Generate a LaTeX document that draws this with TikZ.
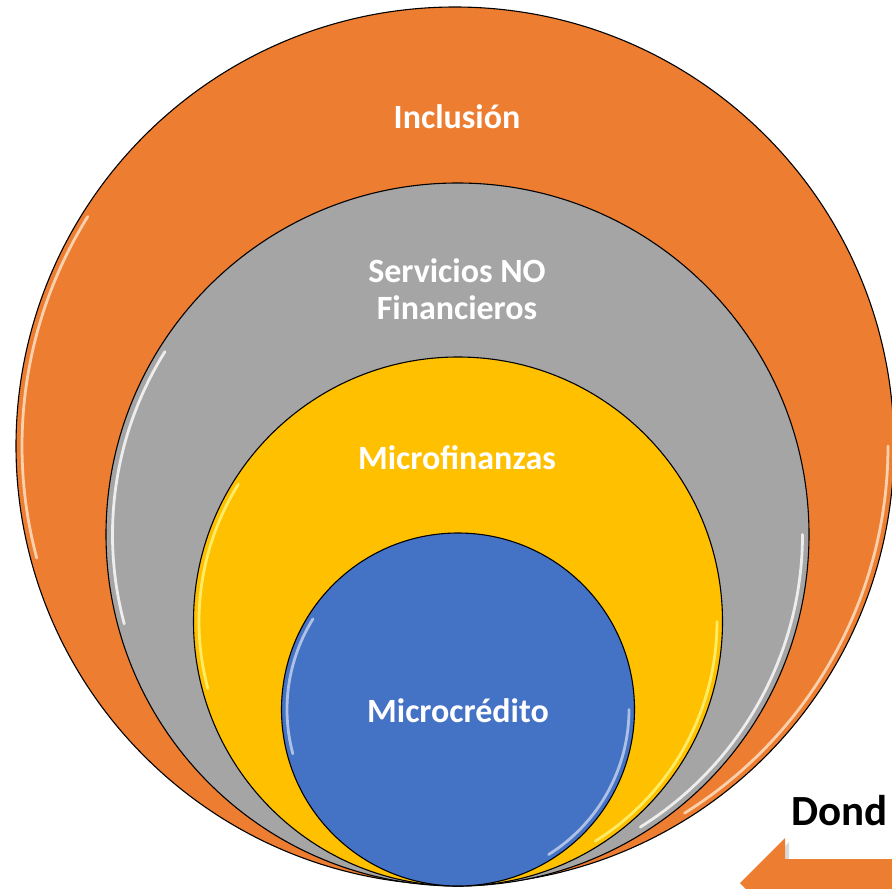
\documentclass[tikz,border=0pt]{standalone}
\usepackage{fontspec}
\setmainfont{Carlito}
\definecolor{corange}{HTML}{ED7D31}
\definecolor{cgray}{HTML}{A5A5A5}
\definecolor{cyellow}{HTML}{FFC000}
\definecolor{cblue}{HTML}{4472C4}
\begin{document}
\begin{tikzpicture}[x=1pt,y=-1pt,
  ring/.style={circle,draw=black,line width=1.1pt,inner sep=0pt,minimum size=#1},
  lbl/.style={text=white,font=\fontsize{34}{37}\selectfont\bfseries,align=center,inner sep=0pt},
  hl/.style={line width=2.8pt,opacity=0.8,line cap=round}]
\useasboundingbox (0,0) rectangle (892,889);
\clip (0,0) rectangle (892,889);
% circles
\node[ring=878pt,fill=corange] (inc) at (455,446) {};
\node[ring=703pt,fill=cgray] (serv) at (457.5,534.5) {};
\node[ring=529pt,fill=cyellow] (mfin) at (458,621.5) {};
\node[ring=353pt,fill=cblue] (mcred) at (458,709.5) {};
% bevel highlights (left side and lower right)
\foreach \c/\r/\h in {inc/433/orange!20!white, serv/345/white, mfin/259/yellow!50!white, mcred/171/cblue!30!white}{
  \draw[hl,draw=\h] (\c.center) ++(-148:\r) arc[start angle=-148,end angle=-195,radius=\r];
  \draw[hl,draw=\h] (\c.center) ++(0:\r) arc[start angle=0,end angle=58,radius=\r];
}
% labels
\node[lbl] (tinc) at (457,117) {Inclusión};
\node[lbl] (tserv) at (457,289) {Servicios NO\\Financieros};
\node[lbl] (tmfin) at (457,458) {Microfinanzas};
\node[lbl] (tmcred) at (458,711) {Microcrédito};
% partial text and arrow at bottom right
\node[anchor=base west,inner sep=0pt,font=\fontsize{43}{50}\selectfont\bfseries] (dond) at (791,825) {Dond};
\fill[black,opacity=0.15] (744,887) -- (789,842) -- (789,863) -- (900,863) -- (900,912) -- (789,912) -- (789,932) -- cycle;
\fill[corange] (740,883) -- (785,838) -- (785,859) -- (900,859) -- (900,907) -- (785,907) -- (785,928) -- cycle;
\end{tikzpicture}
\end{document}
